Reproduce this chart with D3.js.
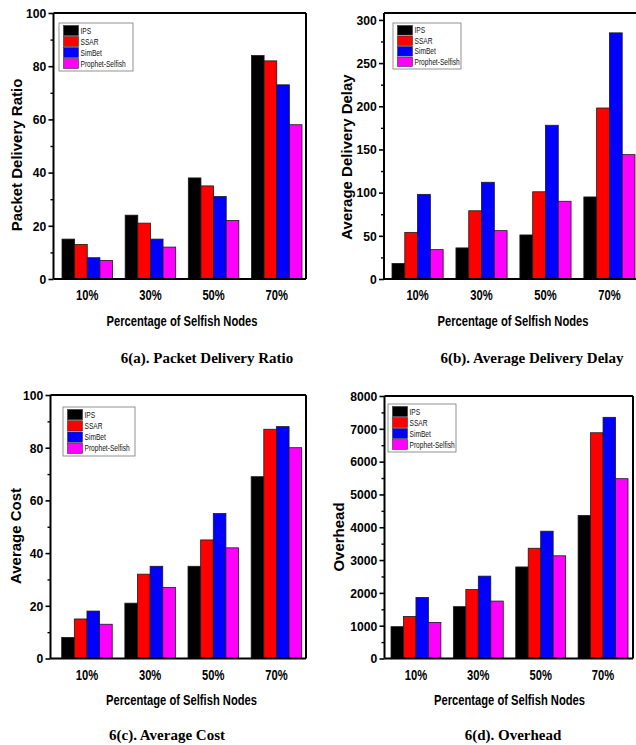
<!DOCTYPE html>
<html>
<head>
<meta charset="utf-8">
<script src="https://cdn.jsdelivr.net/npm/d3@7"></script>
<style>
  html, body { margin: 0; padding: 0; background: #fff; }
  svg { display: block; }
</style>
</head>
<body>
<svg id="chart" width="636" height="745"></svg>
<script>
// ---------------- DATA ----------------
const categories = ["10%", "30%", "50%", "70%"];
const seriesNames = ["IPS", "SSAR", "SimBet", "Prophet-Selfish"];
const seriesColors = ["#000000", "#ff0000", "#0000ff", "#ff00ff"];

// 6(a) Packet Delivery Ratio
const pdrIPS     = [15, 24, 38, 84];
const pdrSSAR    = [13, 21, 35, 82];
const pdrSimBet  = [8, 15, 31, 73];
const pdrProphet = [7, 12, 22, 58];

// 6(b) Average Delivery Delay
const delayIPS     = [18, 36, 51, 95];
const delaySSAR    = [54, 79, 101, 198];
const delaySimBet  = [98, 112, 178, 285];
const delayProphet = [34, 56, 90, 144];

// 6(c) Average Cost
const costIPS     = [8, 21, 35, 69];
const costSSAR    = [15, 32, 45, 87];
const costSimBet  = [18, 35, 55, 88];
const costProphet = [13, 27, 42, 80];

// 6(d) Overhead
const ovhIPS     = [970, 1580, 2790, 4360];
const ovhSSAR    = [1280, 2100, 3360, 6880];
const ovhSimBet  = [1860, 2510, 3880, 7350];
const ovhProphet = [1100, 1750, 3130, 5480];

// tick labels
const ticksA = [0, 20, 40, 60, 80, 100];
const minorA = [10, 30, 50, 70, 90];
const ticksB = [0, 50, 100, 150, 200, 250, 300];
const minorB = [25, 75, 125, 175, 225, 275];
const ticksC = [0, 20, 40, 60, 80, 100];
const minorC = [10, 30, 50, 70, 90];
const ticksD = [0, 1000, 2000, 3000, 4000, 5000, 6000, 7000, 8000];
const minorD = [500, 1500, 2500, 3500, 4500, 5500, 6500, 7500];

const xTitle = "Percentage of Selfish Nodes";

// ---------------- LAYOUT ----------------
const svg = d3.select("#chart");
const SANS = "'Liberation Sans',Arial,sans-serif";
const SERIF = "'Liberation Serif','Times New Roman',serif";

const panels = [
  { series: [pdrIPS, pdrSSAR, pdrSimBet, pdrProphet], ticks: ticksA, minor: minorA,
    domainMax: 100, frame: { x0: 53.5, x1: 306, y0: 13, y1: 279 }, bars: [62, 302],
    yLabel: "Packet Delivery Ratio", yl: { x: 16, y: 155 },
    xt: { x: 182, y: 326 }, tickY: 300,
    legend: { x: 59, y: 23, w: 74, h: 48 },
    caption: "6(a). Packet Delivery Ratio", cap: { x: 207, y: 363 }, rightFrame: true },
  { series: [delayIPS, delaySSAR, delaySimBet, delayProphet], ticks: ticksB, minor: minorB,
    domainMax: 308, frame: { x0: 384, x1: 640, y0: 13, y1: 279 }, bars: [392, 635],
    yLabel: "Average Delivery Delay", yl: { x: 346, y: 157 },
    xt: { x: 513, y: 326 }, tickY: 300,
    legend: { x: 393, y: 23, w: 68, h: 46 },
    caption: "6(b). Average Delivery Delay", cap: { x: 532, y: 363 }, rightFrame: false },
  { series: [costIPS, costSSAR, costSimBet, costProphet], ticks: ticksC, minor: minorC,
    domainMax: 100, frame: { x0: 50.5, x1: 306, y0: 395, y1: 658.5 }, bars: [61.7, 301.7],
    yLabel: "Average Cost", yl: { x: 15, y: 536 },
    xt: { x: 181.5, y: 705 }, tickY: 680,
    legend: { x: 63, y: 407, w: 72, h: 49 },
    caption: "6(c). Average Cost", cap: { x: 167, y: 740 }, rightFrame: true },
  { series: [ovhIPS, ovhSSAR, ovhSimBet, ovhProphet], ticks: ticksD, minor: minorD,
    domainMax: 8000, frame: { x0: 384.5, x1: 633, y0: 396, y1: 658.5 }, bars: [391, 628],
    yLabel: "Overhead", yl: { x: 338, y: 537 },
    xt: { x: 509.5, y: 705 }, tickY: 680,
    legend: { x: 388, y: 404, w: 68, h: 48 },
    caption: "6(d). Overhead", cap: { x: 513, y: 740 }, rightFrame: true }
];

panels.forEach(p => {
  const g = svg.append("g");
  const f = p.frame;
  const y = d3.scaleLinear().domain([0, p.domainMax]).range([f.y1, f.y0]);
  const x = d3.scaleBand().domain(categories).range(p.bars).paddingInner(0.2).paddingOuter(0);
  const xs = d3.scaleBand().domain(seriesNames).range([0, x.bandwidth()]);

  // bars
  seriesNames.forEach((s, si) => {
    g.append("g").selectAll("rect").data(p.series[si]).join("rect")
      .attr("x", (d, i) => x(categories[i]) + xs(s))
      .attr("y", d => y(d))
      .attr("width", xs.bandwidth())
      .attr("height", d => y(0) - y(d))
      .attr("fill", seriesColors[si])
      .attr("stroke", "#1a1a1a")
      .attr("stroke-width", 0.8);
  });

  // frame (top / right)
  g.append("line").attr("x1", f.x0).attr("x2", f.x1).attr("y1", f.y0).attr("y2", f.y0)
    .attr("stroke", "#000").attr("stroke-width", 2);
  if (p.rightFrame) {
    g.append("line").attr("x1", f.x1).attr("x2", f.x1).attr("y1", f.y0).attr("y2", f.y1)
      .attr("stroke", "#000").attr("stroke-width", 2);
  }

  // y axis
  const yAxis = d3.axisLeft(y).tickValues(p.ticks).tickSize(5).tickPadding(3).tickFormat(d3.format("d"));
  const ya = g.append("g").attr("transform", `translate(${f.x0},0)`).call(yAxis);
  ya.select(".domain").attr("stroke-width", 2).attr("d", `M0,${f.y0}V${f.y1}`);
  ya.selectAll(".tick line").attr("stroke-width", 1.6);
  ya.selectAll(".tick text").attr("font-family", SANS).attr("font-weight", "bold")
    .attr("font-size", 13.5).attr("fill", "#000")
    .attr("transform", "scale(0.9,1)");
  const ym = d3.axisLeft(y).tickValues(p.minor).tickSize(3).tickFormat("");
  const ymg = g.append("g").attr("transform", `translate(${f.x0},0)`).call(ym);
  ymg.select(".domain").remove();
  ymg.selectAll(".tick line").attr("stroke-width", 1.4);

  // x axis (bottom line + category labels)
  const xAxis = d3.axisBottom(x).tickSize(0).tickPadding(0);
  const xa = g.append("g").attr("transform", `translate(0,${f.y1})`).call(xAxis);
  xa.select(".domain").attr("stroke-width", 2).attr("d", `M${f.x0},0H${f.x1}`);
  xa.selectAll(".tick text").attr("font-family", SANS).attr("font-weight", "bold")
    .attr("font-size", 14).attr("fill", "#000")
    .attr("dy", null).attr("y", null)
    .attr("transform", `translate(0,${p.tickY - f.y1}) scale(0.8,1)`);

  // y label
  g.append("text")
    .attr("transform", `translate(${p.yl.x},${p.yl.y}) rotate(-90)`)
    .attr("text-anchor", "middle").attr("dominant-baseline", "central")
    .attr("font-family", SANS).attr("font-weight", "bold").attr("font-size", 15)
    .text(p.yLabel);

  // x title (condensed, like Arial Narrow)
  g.append("text")
    .attr("transform", `translate(${p.xt.x},${p.xt.y}) scale(0.8,1)`)
    .attr("text-anchor", "middle")
    .attr("font-family", SANS).attr("font-size", 14).attr("font-weight", "bold")
    .text(xTitle);

  // caption
  g.append("text")
    .attr("x", p.cap.x).attr("y", p.cap.y).attr("text-anchor", "middle")
    .attr("font-family", SERIF).attr("font-size", 15).attr("font-weight", "bold")
    .text(p.caption);

  // legend
  const L = p.legend;
  const lg = g.append("g").attr("transform", `translate(${L.x},${L.y})`);
  lg.append("rect").attr("width", L.w).attr("height", L.h)
    .attr("fill", "#fff").attr("stroke", "#777").attr("stroke-width", 0.8);
  const rowH = (L.h - 4) / 4;
  seriesNames.forEach((s, si) => {
    lg.append("rect").attr("x", 4.5).attr("y", 2 + si * rowH + 0.5)
      .attr("width", 15).attr("height", rowH - 1)
      .attr("fill", seriesColors[si]).attr("stroke", "#333").attr("stroke-width", 0.6);
    lg.append("text")
      .attr("transform", `translate(21.5,${2 + si * rowH + rowH / 2 + 3}) scale(0.78,1)`)
      .attr("font-family", SANS).attr("font-size", 8.5).attr("fill", "#111")
      .text(s);
  });
});
</script>
</body>
</html>
